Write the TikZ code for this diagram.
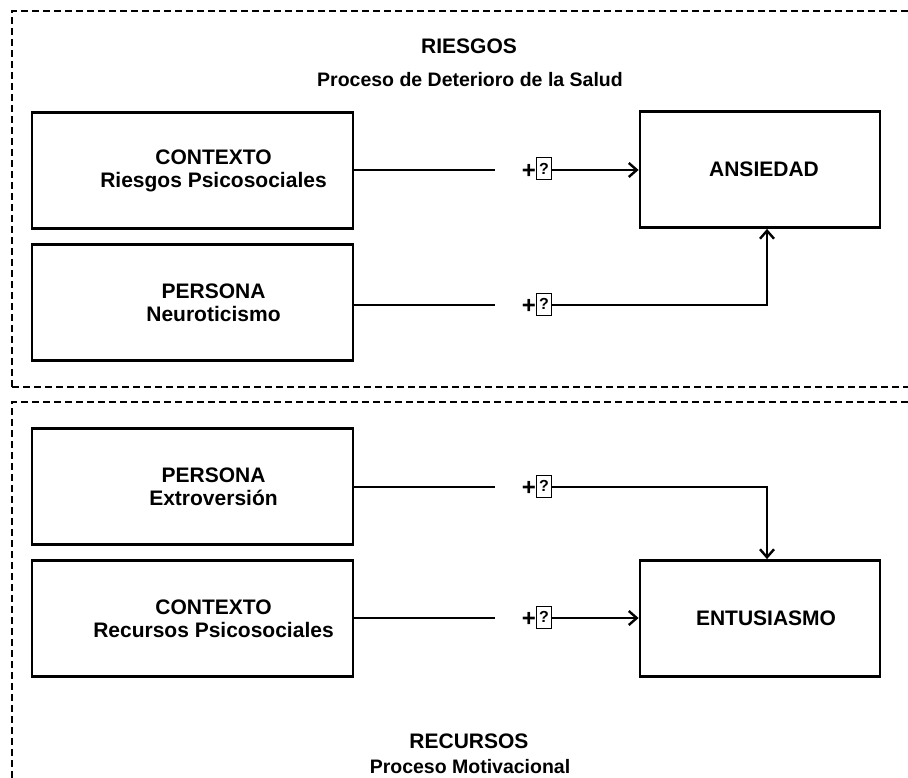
\documentclass[tikz,border=0pt]{standalone}
\usepackage{fontspec}
\setmainfont{Liberation Sans}
\usetikzlibrary{arrows.meta}

\newcommand{\qmark}{{\setlength{\fboxsep}{0pt}\setlength{\fboxrule}{1pt}%
   \raisebox{4pt}{\fbox{\makebox[14pt]{\rule[-5pt]{0pt}{21pt}\fontsize{16}{16}\selectfont ?}}}}}

\begin{document}
\begin{tikzpicture}
      [x = 1pt, y = -1pt,
      every node/.style = {font = \fontsize{21}{23}\selectfont\bfseries},
      group/.style = {line width = 1.2pt, dash pattern = on 7pt off 4pt},
      title/.style = {anchor = base, font = \fontsize{21}{21}\selectfont\bfseries},
      subtitle/.style = {anchor = base, font = \fontsize{19.5}{21}\selectfont\bfseries},
      varbox/.style = {
         draw,
         line width = 2.8pt,
         minimum width = 321pt,
         minimum height = 116pt
      },
      outbox/.style = {
         draw,
         line width = 2.8pt,
         minimum width = 240pt,
         minimum height = 116pt
      },
      boxtext/.style = {align = center},
      sign/.style = {
         anchor = base,
         inner sep = 0pt,
         text width = 57pt,
         align = right,
         font = \fontsize{24}{24}\selectfont\bfseries
      },
      link/.style = {line width = 2.2pt},
      effect/.style = {line width = 2.2pt, -{Straight Barb[length = 8pt, width = 14pt, line width = 2.4pt]}}]
      \useasboundingbox (0, 0) rectangle (908, 778);

      % groups
      \draw[group] (12, 387) -- (12, 11) -- (930, 11);
      \draw[group] (12, 387) -- (930, 387);
      \draw[group] (12, 800) -- (12, 402) -- (930, 402);

      \node[title] (riesgos) at (469, 54) {RIESGOS};
      \node[subtitle] (salud) at (470, 87) {Proceso de Deterioro de la Salud};
      \node[title] (recursos) at (469, 748) {RECURSOS};
      \node[subtitle] (motiv) at (470, 773) {Proceso Motivacional};

      % variables
      \node[varbox] (ctxriesgo) at (192.5, 170.5) {};
      \node[varbox] (neuro) at (192.5, 302.5) {};
      \node[varbox] (extro) at (192.5, 486.5) {};
      \node[varbox] (ctxrecurso) at (192.5, 618.5) {};
      \node[boxtext] (ctxriesgotxt) at ([xshift = 21pt]ctxriesgo) {CONTEXTO\\Riesgos Psicosociales};
      \node[boxtext] (neurotxt) at ([xshift = 21pt]neuro) {PERSONA\\Neuroticismo};
      \node[boxtext] (extrotxt) at ([xshift = 21pt]extro) {PERSONA\\Extroversi\'on};
      \node[boxtext] (ctxrecursotxt) at ([xshift = 21pt]ctxrecurso) {CONTEXTO\\Recursos Psicosociales};

      \node[outbox] (ansiedad) at (760, 169.5) {};
      \node[outbox] (entusiasmo) at (760, 618.5) {};
      \node (ansiedadtxt) at ([xshift = 4pt]ansiedad) {ANSIEDAD};
      \node (entusiasmotxt) at ([xshift = 6pt]entusiasmo) {ENTUSIASMO};

      % signs
      \node[sign] (s1) at (523.5, 178.5) {+\qmark};
      \node[sign] (s2) at (523.5, 313.5) {+\qmark};
      \node[sign] (s3) at (523.5, 495.5) {+\qmark};
      \node[sign] (s4) at (523.5, 626.5) {+\qmark};

      \draw[link] (ctxriesgo.east |- 0, 170) -- (s1.west |- 0, 170);
      \draw[effect] (s1.east |- 0, 170) -- (ansiedad.west |- 0, 170);
      \draw[link] (neuro.east |- 0, 305) -- (s2.west |- 0, 305);
      \draw[effect] (s2.east |- 0, 305) -| ([xshift = 7pt]ansiedad.south);
      \draw[link] (extro.east |- 0, 487) -- (s3.west |- 0, 487);
      \draw[effect] (s3.east |- 0, 487) -| ([xshift = 7pt]entusiasmo.north);
      \draw[link] (ctxrecurso.east |- 0, 618) -- (s4.west |- 0, 618);
      \draw[effect] (s4.east |- 0, 618) -- (entusiasmo.west |- 0, 618);

   \end{tikzpicture}
\end{document}
